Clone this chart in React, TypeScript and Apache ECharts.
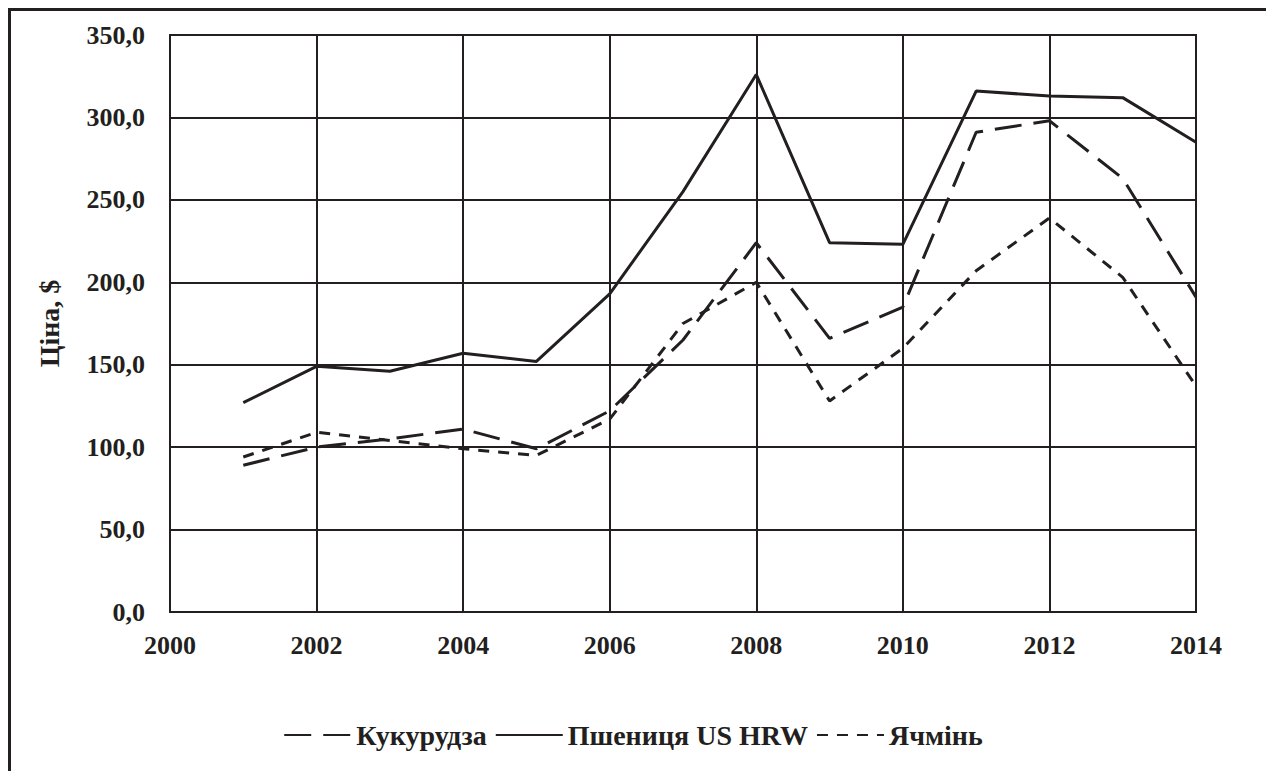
import React, { useEffect, useRef } from "react";
import * as echarts from "echarts";

const years = [2001, 2002, 2003, 2004, 2005, 2006, 2007, 2008, 2009, 2010, 2011, 2012, 2013, 2014];
const corn = [89, 100, 105, 111, 99, 122, 165, 224, 166, 185, 291, 298, 263, 191];
const wheat = [127, 149, 146, 157, 152, 193, 255, 326, 224, 223, 316, 313, 312, 285];
const barley = [94, 109, 104, 99, 95, 117, 175, 200, 128, 160, 207, 239, 203, 137];
const seriesNames = ["Кукурудза", "Пшениця US HRW", "Ячмінь"];
const yAxisTitle = "Ціна, $";

const FONT = "'Liberation Serif', 'Times New Roman', serif";
const INK = "#231f20";
const FS = 26;

export default function App() {
  const ref = useRef<HTMLDivElement>(null);
  useEffect(() => {
    if (!ref.current) return;
    const chart = echarts.init(ref.current, null, { renderer: "svg" });
    const pair = (arr: number[]) => years.map((y, i) => [y, arr[i]]);
    chart.setOption({
      animation: false,
      backgroundColor: "#ffffff",
      graphic: [
        {
          type: "rect",
          shape: { x: 9.5, y: 9.5, width: 1400, height: 900 },
          style: { fill: "none", stroke: INK, lineWidth: 3 },
          silent: true,
        },
      ],
      grid: { left: 170, right: 70, top: 35, bottom: 159, show: true, borderColor: INK, borderWidth: 2 },
      xAxis: {
        type: "value",
        min: 2000,
        max: 2014,
        interval: 2,
        axisLine: { show: false },
        axisTick: { show: false },
        splitLine: { show: true, lineStyle: { color: INK, width: 2 } },
        axisLabel: {
          margin: 20,
          fontFamily: FONT,
          fontWeight: "bold",
          fontSize: FS,
          color: INK,
          formatter: (v: number) => String(v),
        },
      },
      yAxis: {
        type: "value",
        min: 0,
        max: 350,
        interval: 50,
        name: yAxisTitle,
        nameLocation: "middle",
        nameGap: 107,
        nameTextStyle: { fontFamily: FONT, fontWeight: "bold", fontSize: 28, color: INK },
        axisLine: { show: false },
        axisTick: { show: false },
        splitLine: { show: true, lineStyle: { color: INK, width: 2 } },
        axisLabel: {
          margin: 25,
          fontFamily: FONT,
          fontWeight: "bold",
          fontSize: FS,
          color: INK,
          formatter: (v: number) => v.toFixed(1).replace(".", ","),
        },
      },
      legend: {
        bottom: 17,
        left: "center",
        itemWidth: 67,
        itemHeight: 14,
        itemGap: 8,
        itemStyle: { opacity: 0 },
        textStyle: { fontFamily: FONT, fontWeight: "bold", fontSize: 28, color: INK, padding: [0, 0, 0, 0] },
        data: seriesNames,
      },
      series: [
        {
          name: seriesNames[0],
          type: "line",
          data: pair(corn),
          symbol: "none",
          lineStyle: { color: INK, width: 3, type: [27, 12] },
          itemStyle: { color: INK },
        },
        {
          name: seriesNames[1],
          type: "line",
          data: pair(wheat),
          symbol: "none",
          lineStyle: { color: INK, width: 3, type: "solid" },
          itemStyle: { color: INK },
        },
        {
          name: seriesNames[2],
          type: "line",
          data: pair(barley),
          symbol: "none",
          lineStyle: { color: INK, width: 3, type: [11, 9] },
          itemStyle: { color: INK },
        },
      ],
    });
    return () => chart.dispose();
  }, []);
  return (
    <div
      ref={ref}
      style={{ position: "fixed", left: 0, top: 0, width: 1266, height: 771, background: "#fff" }}
    />
  );
}
